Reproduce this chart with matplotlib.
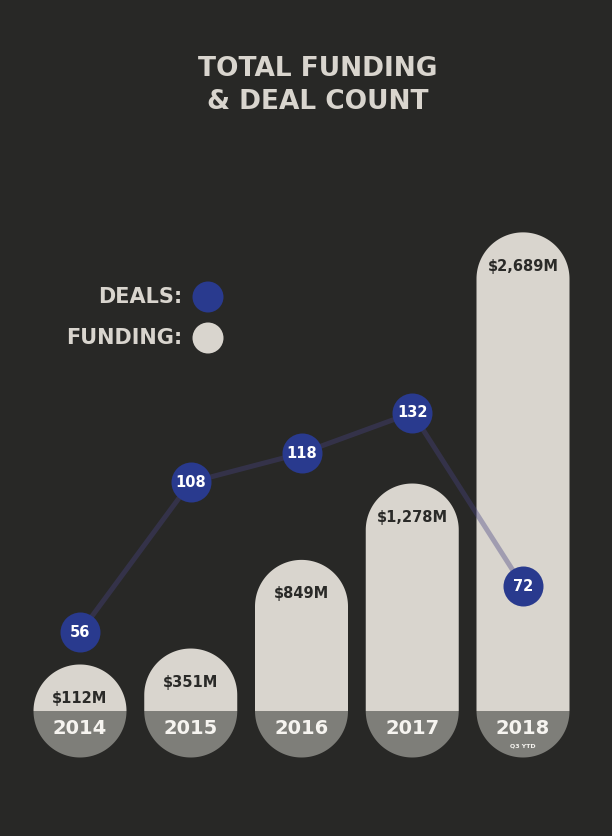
import matplotlib
matplotlib.use("Agg")
import numpy as np
import matplotlib.pyplot as plt
from matplotlib.patches import Polygon, Ellipse

years = ["2014", "2015", "2016", "2017", "2018"]
funding = [112, 351, 849, 1278, 2689]
funding_labels = ["$112M", "$351M", "$849M", "$1,278M", "$2,689M"]
deals = [56, 108, 118, 132, 72]
year_notes = ["", "", "", "", "Q3 YTD"]

BG = "#282826"
BEIGE = "#d9d5ce"
GREY = "#7e7e79"
BLUE = "#293a8e"
LINE = "#474482"
FONT = ["DejaVu Sans"]
WT = "bold"

W, H, DPI = 612, 836, 100
fig = plt.figure(figsize=(W / DPI, H / DPI), dpi=DPI, facecolor=BG)
ax = fig.add_axes([0, 0, 1, 1])
ax.set_facecolor(BG)
ax.axis("off")

x0_px, dx_px = 80, 110.75
base_px, k_px = 125, 0.178
ax.set_xlim(-x0_px / dx_px, (W - x0_px) / dx_px)
ax.set_ylim(-base_px / k_px, (H - base_px) / k_px)

r_px = 46.5
rx = r_px / dx_px
ry = r_px / k_px
th_top = np.linspace(0, np.pi, 90)
th_bot = np.linspace(np.pi, 2 * np.pi, 90)

for i, (v, lab, yr, note) in enumerate(zip(funding, funding_labels, years, year_notes)):
    cy = max(v - ry, 0)
    top_pts = np.column_stack([i + rx * np.cos(th_top), cy + ry * np.sin(th_top)])
    body = np.vstack([[i + rx, 0], top_pts, [i - rx, 0]])
    ax.add_patch(Polygon(body, closed=True, facecolor=BEIGE, edgecolor="none", zorder=2))
    bot = np.column_stack([i + rx * np.cos(th_bot), ry * np.sin(th_bot)])
    ax.add_patch(Polygon(bot, closed=True, facecolor=GREY, edgecolor="none", zorder=2.1))
    top = cy + ry
    ax.annotate(lab, (i, top), xytext=(0, -34 * 72 / DPI), textcoords="offset points",
                ha="center", va="center", fontsize=10.5, fontweight=WT, color="#2a2a28",
                family=FONT, zorder=3)
    ax.annotate(yr, (i, 0), xytext=(0, -18 * 72 / DPI), textcoords="offset points",
                ha="center", va="center", fontsize=14, fontweight=WT, color="#f6f4f0",
                family=FONT, zorder=3)
    if note:
        ax.annotate(note, (i, 0), xytext=(0, -35 * 72 / DPI), textcoords="offset points",
                    ha="center", va="center", fontsize=4.5, fontweight=WT, color="#f6f4f0",
                    family=FONT, zorder=3)

ax2 = fig.add_axes([0, 0, 1, 1], sharex=ax)
ax2.axis("off")
ax2.patch.set_alpha(0)
d_off, d_k = 41.7, 2.89
ax2.set_ylim(-d_off / d_k, (H - d_off) / d_k)
xs = list(range(len(deals)))
ax2.plot(xs, deals, color=LINE, alpha=0.39, lw=5 * 72 / DPI, zorder=4, solid_capstyle="round")
ax2.plot(xs, deals, "o", color=BLUE, ms=40 * 72 / DPI, mec="none", zorder=5)
for x, d in zip(xs, deals):
    ax2.text(x, d, str(d), ha="center", va="center", fontsize=10.5, fontweight=WT,
             color="white", family=FONT, zorder=6)

fig.text(318 / W, 1 - 69 / H, "TOTAL FUNDING", ha="center", va="center", fontsize=19,
         fontweight=WT, color=BEIGE, family=FONT)
fig.text(318 / W, 1 - 102 / H, "& DEAL COUNT", ha="center", va="center", fontsize=19,
         fontweight=WT, color=BEIGE, family=FONT)

for label, yy, col in [("DEALS:", 297, BLUE), ("FUNDING:", 338, BEIGE)]:
    fig.text(182 / W, 1 - yy / H, label, ha="right", va="center", fontsize=15,
             fontweight=WT, color=BEIGE, family=FONT)
    fig.add_artist(Ellipse((208 / W, 1 - yy / H), 31 / W, 31 / H, facecolor=col,
                           edgecolor="none", transform=fig.transFigure))

fig.savefig("out.png", dpi=DPI, facecolor=BG)
